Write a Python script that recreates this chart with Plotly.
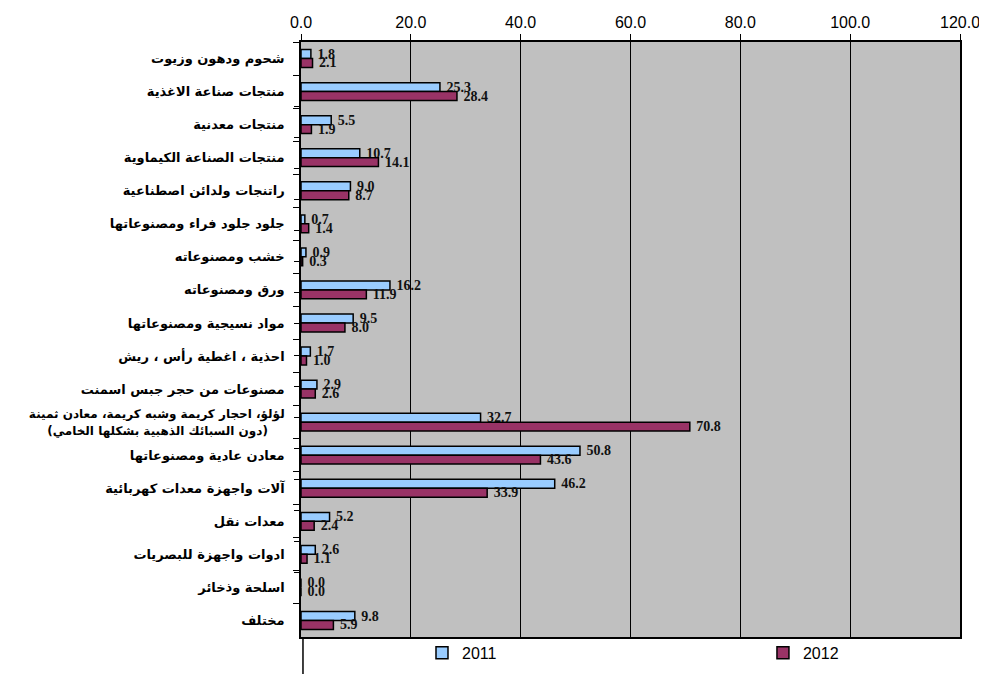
import plotly.graph_objects as go

NBSP = "\u00a0"

categories = [
    "شحوم ودهون وزيوت",
    "منتجات صناعة الاغذية",
    "منتجات معدنية",
    "منتجات الصناعة الكيماوية",
    "راتنجات ولدائن اصطناعية",
    "جلود جلود فراء ومصنوعاتها",
    "خشب ومصنوعاته",
    "ورق ومصنوعاته",
    "مواد نسيجية ومصنوعاتها",
    "احذية ، اغطية رأس ، ريش",
    "مصنوعات من حجر جبس اسمنت",
    "لؤلؤ، احجار كريمة وشبه كريمة، معادن ثمينة<br>(دون السبائك الذهبية بشكلها الخامي)",
    "معادن عادية ومصنوعاتها",
    "آلات واجهزة معدات كهربائية",
    "معدات نقل",
    "ادوات واجهزة للبصريات",
    "اسلحة وذخائر",
    "مختلف",
]

values_2011 = [1.8, 25.3, 5.5, 10.7, 9.0, 0.7, 0.9, 16.2, 9.5, 1.7, 2.9, 32.7, 50.8, 46.2, 5.2, 2.6, 0.0, 9.8]
values_2012 = [2.1, 28.4, 1.9, 14.1, 8.7, 1.4, 0.3, 11.9, 8.0, 1.0, 2.6, 70.8, 43.6, 33.9, 2.4, 1.1, 0.0, 5.9]

x_ticks = [0, 20, 40, 60, 80, 100, 120]


def display_label(c):
    parts = c.split("<br>")
    if len(parts) == 1:
        return c
    pad = NBSP * 4
    out = [parts[0]] + [pad + p + pad for p in parts[1:]]
    return "<span style='font-size:12px'>" + "<br>".join(out) + "</span>"


labels = [display_label(c) for c in categories]

value_font = dict(family="Liberation Serif", size=14, color="#111111", weight="bold")

fig = go.Figure()
fig.add_trace(go.Bar(
    name="2011", y=labels, x=values_2011, orientation="h",
    marker=dict(color="#99CCFF", line=dict(color="#000000", width=1.5)),
    text=[NBSP + f"{v:.1f}" for v in values_2011], textposition="outside",
    textfont=value_font, cliponaxis=False, constraintext="none",
    legend="legend",
))
fig.add_trace(go.Bar(
    name="2012", y=labels, x=values_2012, orientation="h",
    marker=dict(color="#993366", line=dict(color="#000000", width=1.5)),
    text=[NBSP + f"{v:.1f}" for v in values_2012], textposition="outside",
    textfont=value_font, cliponaxis=False, constraintext="none",
    legend="legend2",
))
# invisible helper to draw the extra tick marks at category centres
fig.add_trace(go.Scatter(
    y=labels, x=[0] * len(labels), yaxis="y2", mode="markers",
    marker=dict(opacity=0), showlegend=False, hoverinfo="skip",
))

legend_font = dict(family="Liberation Sans", size=16, color="#000")

# page body adds an 8px offset, margins compensate for it
fig.update_layout(
    width=987, height=674,
    margin=dict(l=293, r=35, t=34, b=40),
    paper_bgcolor="white", plot_bgcolor="#C0C0C0",
    barmode="group", bargap=0.46, bargroupgap=0,
    font=dict(family="Liberation Sans", color="#000000"),
    xaxis=dict(
        side="top", range=[0, 120], tickvals=x_ticks,
        ticktext=[f"{t:.1f}" for t in x_ticks],
        tickfont=dict(family="Liberation Sans", size=16, color="#000"),
        showgrid=True, gridcolor="#000000", gridwidth=1,
        showline=True, linecolor="#000000", linewidth=1.5, mirror=True,
        ticks="outside", ticklen=6, tickcolor="#000000", zeroline=False,
        automargin=False,
    ),
    yaxis=dict(
        autorange="reversed", type="category",
        tickfont=dict(family="DejaVu Sans", size=13, color="#000", weight="bold"),
        showline=True, linecolor="#000000", linewidth=1.5, mirror=True,
        ticks="outside", ticklen=6, tickcolor="#000000", tickson="boundaries",
        showgrid=False, automargin=False, ticklabelstandoff=12,
    ),
    yaxis2=dict(
        overlaying="y", side="left", autorange="reversed", type="category",
        showticklabels=False, ticks="outside", ticklen=6, tickcolor="#000000",
        showline=False, showgrid=False, automargin=False,
    ),
    showlegend=True,
    legend=dict(
        orientation="h", x=0.1836, xanchor="left", y=-0.0267, yanchor="middle",
        font=legend_font, bgcolor="rgba(0,0,0,0)",
    ),
    legend2=dict(
        orientation="h", x=0.701, xanchor="left", y=-0.0267, yanchor="middle",
        font=legend_font, bgcolor="rgba(0,0,0,0)",
    ),
    shapes=[dict(type="line", xref="paper", yref="paper", x0=0.003, x1=0.003,
                 y0=0, y1=-0.07, line=dict(color="#000000", width=1.5))],
)

fig.write_html("out.html")
